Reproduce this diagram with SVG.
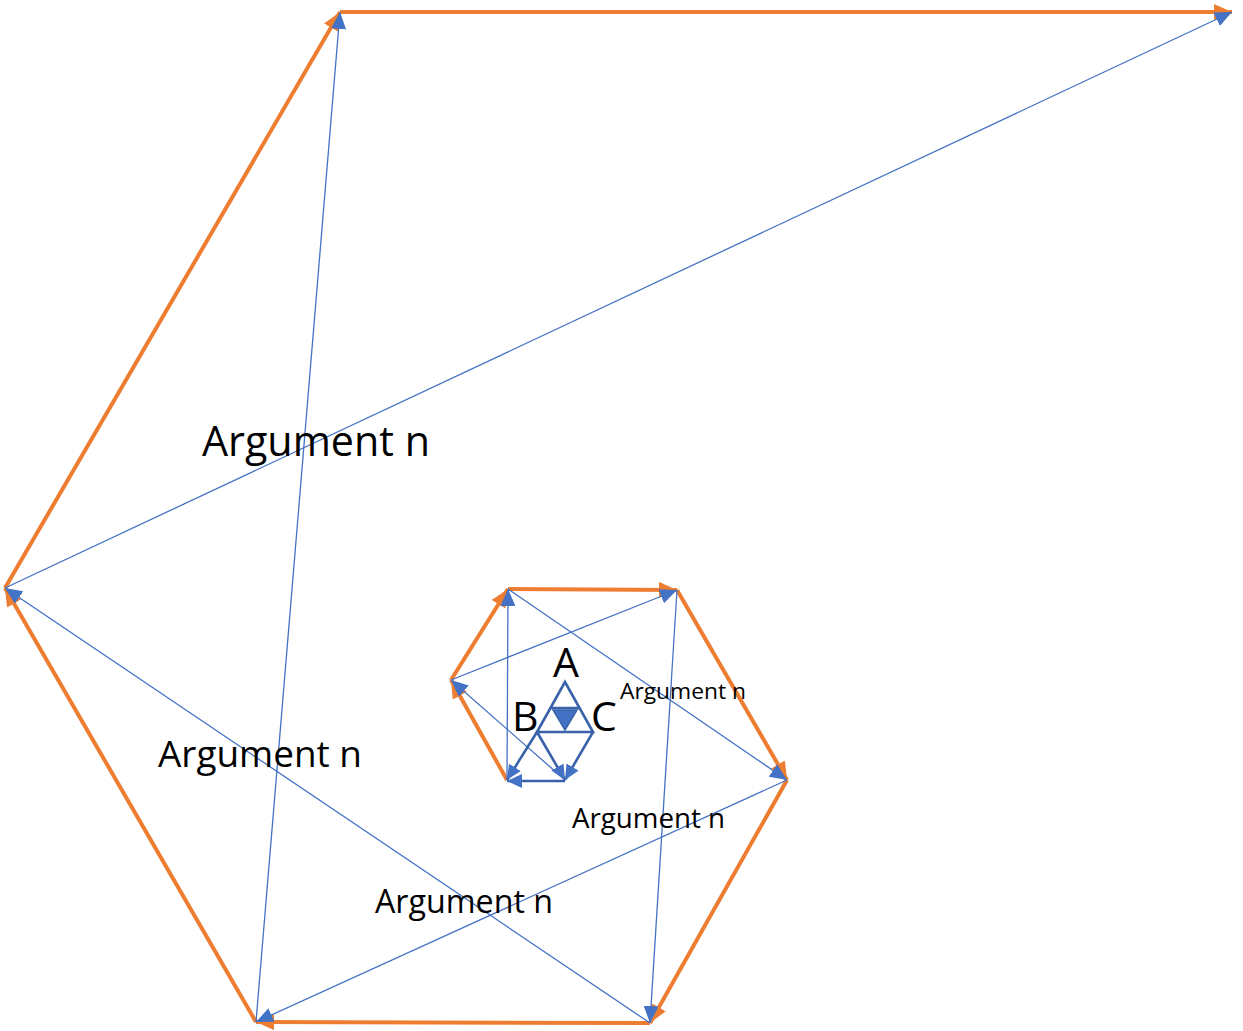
<svg xmlns="http://www.w3.org/2000/svg" width="1243" height="1031" viewBox="0 0 1243 1031">
<style>
.o{stroke:#ED7D31;stroke-width:4;fill:none;marker-end:url(#ao)}
.b{stroke:#4472C4;stroke-width:1.3;fill:none;marker-end:url(#ab)}
.d{stroke:#3A62AA;stroke-width:2.6;fill:none}
.da{marker-end:url(#ad)}
text{font-family:"Open Sans","Liberation Sans",sans-serif;fill:#000}
</style>
<defs>
<marker id="ao" markerUnits="userSpaceOnUse" markerWidth="19" markerHeight="16" refX="18" refY="8" orient="auto"><path d="M0,0 L18,8 L0,16 z" fill="#ED7D31"/></marker>
<marker id="ab" markerUnits="userSpaceOnUse" markerWidth="18" markerHeight="15" refX="17" refY="7.5" orient="auto"><path d="M0,0 L17,7.5 L0,15 z" fill="#4472C4"/></marker>
<marker id="ad" markerUnits="userSpaceOnUse" markerWidth="16" markerHeight="14" refX="15" refY="7" orient="auto"><path d="M0,0 L15,7 L0,14 z" fill="#4472C4"/></marker>
</defs>
<rect width="1243" height="1031" fill="#fff"/>
<g id="connectors">
<line class="o" x1="507" y1="780" x2="451" y2="680"/>
<line class="o" x1="451" y1="680" x2="508" y2="589"/>
<line class="o" x1="508" y1="589" x2="677" y2="590"/>
<line class="o" x1="677" y1="590" x2="787" y2="780"/>
<line class="o" x1="787" y1="780" x2="650" y2="1023"/>
<line class="o" x1="650" y1="1023" x2="256" y2="1022"/>
<line class="o" x1="256" y1="1022" x2="5" y2="588"/>
<line class="o" x1="5" y1="588" x2="340" y2="12"/>
<line class="o" x1="340" y1="12" x2="1232" y2="12"/>
<line class="b" x1="256" y1="1022" x2="340" y2="12"/>
<line class="b" x1="5" y1="588" x2="1232" y2="12"/>
<line class="b" x1="650" y1="1023" x2="5" y2="588"/>
<line class="b" x1="787" y1="780" x2="256" y2="1022"/>
<line class="b" x1="677" y1="590" x2="650" y2="1023"/>
<line class="b" x1="508" y1="589" x2="787" y2="780"/>
<line class="b" x1="451" y1="680" x2="677" y2="590"/>
<line class="b" x1="507" y1="780" x2="508" y2="589"/>
<line class="b" x1="565" y1="780" x2="451" y2="680"/>
</g>
<g id="small-triangles">
<path class="d" d="M565,682 L537,732 L593,732 Z M551,708 L579,708"/>
<path d="M553,710 L577,710 L565,730 Z" fill="#4472C4" stroke="#3A62AA" stroke-width="1.5"/>
<line class="d da" x1="537" y1="732" x2="507" y2="780"/>
<line class="d da" x1="537" y1="732" x2="565" y2="780"/>
<line class="d da" x1="593" y1="732" x2="565" y2="780"/>
<line class="d da" x1="565" y1="781" x2="507" y2="781"/>
</g>
<g id="labels">
<text x="202" y="456" font-size="42" textLength="228" lengthAdjust="spacingAndGlyphs">Argument n</text>
<text x="158" y="767" font-size="37" textLength="204" lengthAdjust="spacingAndGlyphs">Argument n</text>
<text x="375" y="913" font-size="32" textLength="178" lengthAdjust="spacingAndGlyphs">Argument n</text>
<text x="572" y="828" font-size="27" textLength="153" lengthAdjust="spacingAndGlyphs">Argument n</text>
<text x="620" y="699" font-size="22" textLength="126" lengthAdjust="spacingAndGlyphs">Argument n</text>
<text x="566" y="677" font-size="41" text-anchor="middle">A</text>
<text x="512" y="731" font-size="41">B</text>
<text x="591" y="731" font-size="41">C</text>
</g>
</svg>
